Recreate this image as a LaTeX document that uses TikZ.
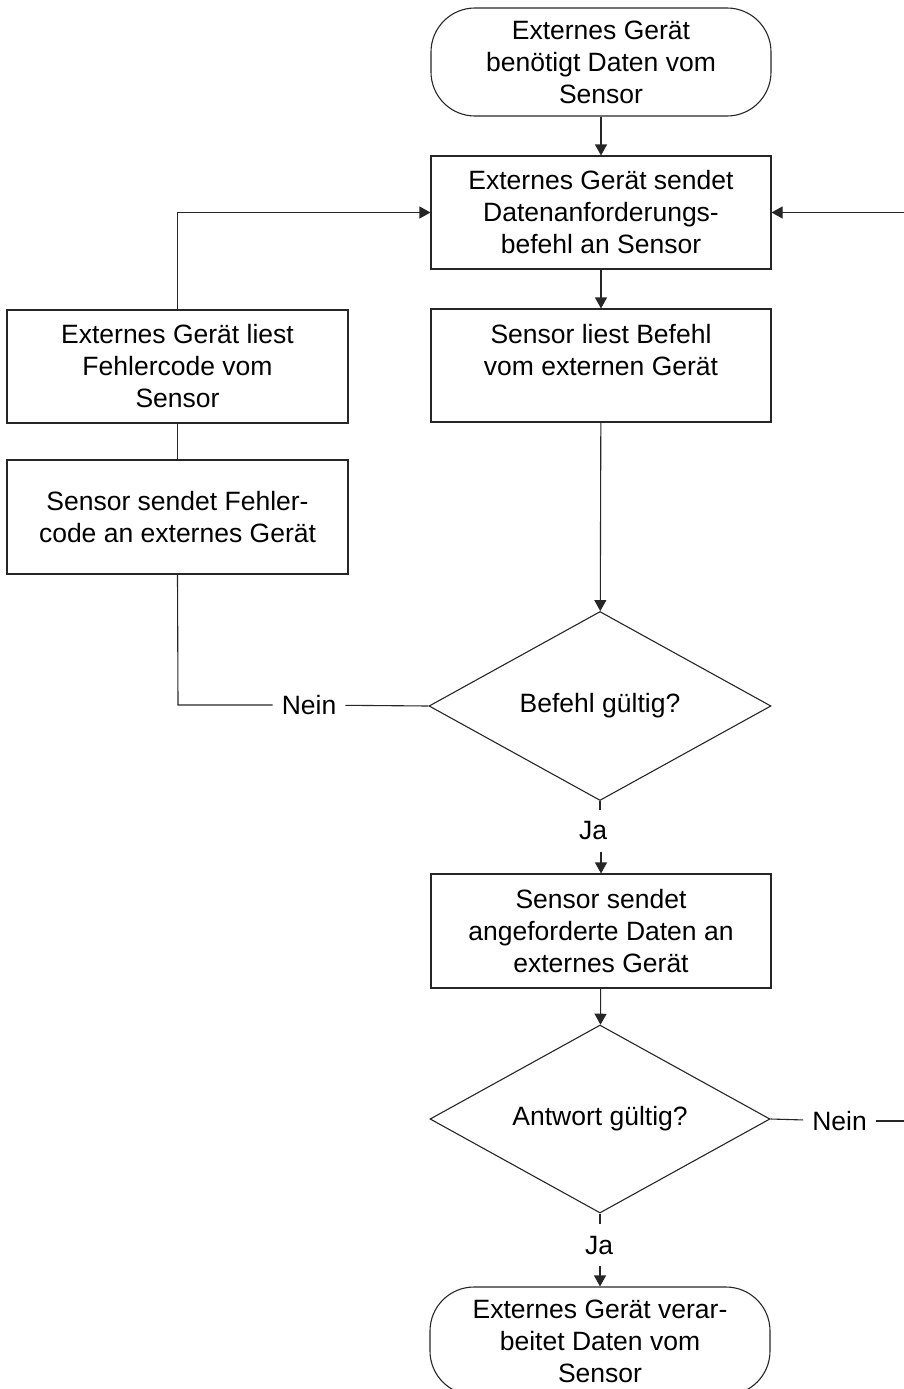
\documentclass[tikz,border=0pt]{standalone}
\usepackage{fontspec}
\setmainfont{Liberation Sans}
\usetikzlibrary{shapes.geometric,arrows.meta}
\begin{document}
\begin{tikzpicture}[x=1pt,y=-1pt,
  every node/.style={font=\fontsize{26.5}{32}\selectfont, text=black},
  conn/.style={draw=black!85, line width=1.1pt},
  arr/.style={conn, -{Triangle[length=11pt,width=12pt]}},
  procbox/.style={draw=black!85, line width=1.1pt, rectangle, minimum width=340pt, minimum height=113pt, align=center, inner sep=0pt},
  termbox/.style={draw=black!85, line width=1.1pt, rectangle, rounded corners=44pt, minimum width=340pt, minimum height=108pt, align=center, inner sep=0pt},
  decbox/.style={draw=black!85, line width=1.1pt, diamond, shape aspect=1.8, minimum width=342pt, minimum height=189pt, inner sep=0pt},
  lbl/.style={inner xsep=9pt, inner ysep=0pt, minimum height=41pt}
]
\useasboundingbox (0,0) rectangle (903,1389);

\node[termbox] (t1) at (601,62) {Externes Gerät\\benötigt Daten vom\\Sensor};
\node[procbox] (b2) at (601,212.5) {Externes Gerät sendet\\Datenanforderungs-\\befehl an Sensor};
\node[procbox] (b3) at (601,365.5) {Sensor liest Befehl\\vom externen Gerät\\\mbox{}};
\node[procbox, minimum width=341pt] (bA) at (177.5,366.5) {Externes Gerät liest\\Fehlercode vom\\Sensor};
\node[procbox, minimum width=341pt, minimum height=114pt] (bB) at (177.5,517) {Sensor sendet Fehler-\\code an externes Gerät};
\node[decbox] (d1) at (600,706) {Befehl gültig?};
\node[lbl] (nein1) at (309,705) {Nein};
\coordinate (cL) at (178,705);
\node[lbl] (ja1) at (593,831) {Ja};
\node[procbox, minimum height=114pt] (b4) at (601,931) {Sensor sendet\\angeforderte Daten an\\externes Gerät};
\node[decbox, minimum width=340pt, minimum height=188pt] (d2) at (600,1119) {Antwort gültig?};
\node[lbl] (nein2) at (839.5,1121) {Nein};
\coordinate (cR) at (906,1121);
\node[lbl] (ja2) at (599,1245) {Ja};
\node[termbox] (t2) at (600,1341) {Externes Gerät verar-\\beitet Daten vom\\Sensor};

\draw[arr] (t1) -- (b2);
\draw[arr] (b2) -- (b3);
\draw[arr] (b3) -- (d1);
\draw[conn] (d1.west) -- (nein1);
\draw[conn] (nein1) -- (cL) -- (bB.south);
\draw[conn] (bB.north) -- (bA.south);
\draw[arr] (bA.north) |- (b2.west);
\draw[conn] (d1.south) -- (d1.south |- ja1.north);
\draw[arr] (b4.north |- ja1.south) -- (b4.north);
\draw[arr] (b4) -- (d2);
\draw[conn] (d2.east) -- (nein2);
\draw[arr] (nein2) -- (cR) |- (b2.east);
\draw[conn] (d2.south) -- (d2.south |- ja2.north);
\draw[arr] (t2.north |- ja2.south) -- (t2.north);
\end{tikzpicture}
\end{document}
